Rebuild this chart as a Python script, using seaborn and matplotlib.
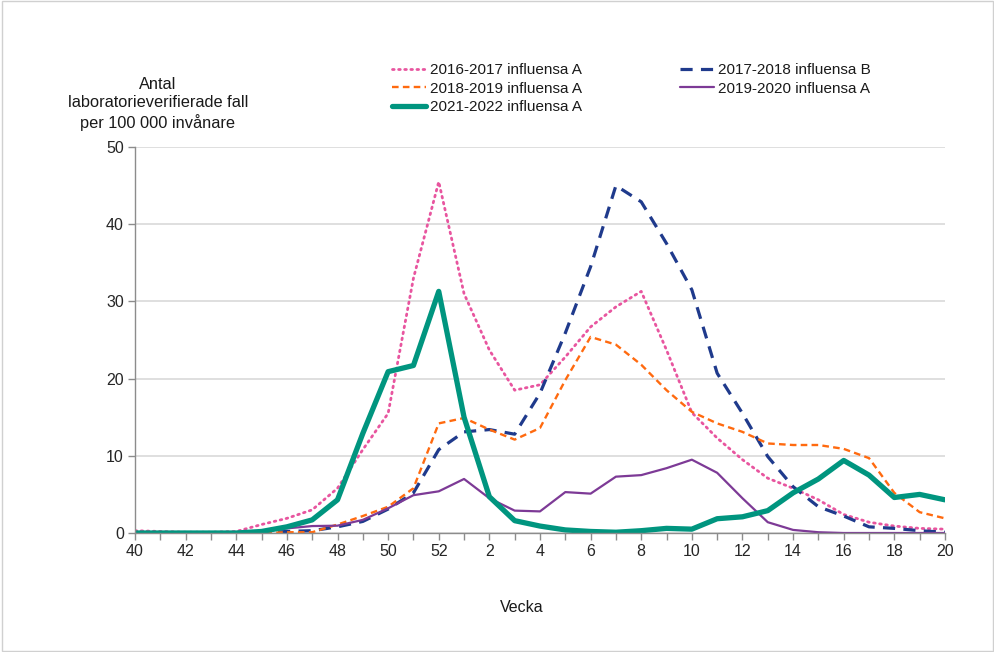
import matplotlib
matplotlib.use("Agg")
import matplotlib.pyplot as plt
import seaborn as sns
import pandas as pd
from matplotlib.patches import Rectangle

# weeks 40-52 followed by 1-20
weeks = list(range(40, 53)) + list(range(1, 21))
tick_labels = [str(w) if w % 2 == 0 else "" for w in weeks]

s2016_2017_A = [0.3, 0.2, 0.1, 0.1, 0.2, 1.1, 1.9, 3.0, 5.8, 10.8, 15.5, 33.0, 45.5,
                31.0, 23.7, 18.5, 19.2, 22.8, 26.7, 29.3, 31.3, 23.7, 15.6,
                12.3, 9.5, 7.1, 5.8, 4.3, 2.4, 1.4, 0.9, 0.6, 0.5]
s2017_2018_B = [0.0, 0.0, 0.0, 0.0, 0.0, 0.0, 0.2, 0.3, 0.8, 1.5, 3.1, 5.2, 10.8,
                13.1, 13.4, 12.8, 18.1, 25.9, 34.5, 45.0, 42.9, 37.5, 31.5,
                20.7, 15.5, 9.9, 6.0, 3.4, 2.2, 0.8, 0.6, 0.3, 0.1]
s2018_2019_A = [0.0, 0.0, 0.0, 0.0, 0.0, 0.0, 0.1, 0.1, 1.1, 2.2, 3.4, 5.8, 14.2,
                14.9, 13.4, 12.1, 13.6, 19.8, 25.4, 24.4, 21.8, 18.5, 15.7,
                14.2, 13.1, 11.6, 11.4, 11.4, 10.9, 9.7, 5.2, 2.7, 1.9]
s2019_2020_A = [0.0, 0.0, 0.0, 0.0, 0.0, 0.2, 0.6, 0.9, 0.95, 1.7, 3.2, 4.9, 5.4,
                7.0, 4.5, 2.9, 2.8, 5.3, 5.1, 7.3, 7.5, 8.4, 9.5,
                7.8, 4.5, 1.4, 0.4, 0.1, 0.0, 0.0, 0.0, 0.0, 0.0]
s2021_2022_A = [0.0, 0.0, 0.0, 0.0, 0.0, 0.2, 0.8, 1.7, 4.3, 12.9, 20.9, 21.7, 31.3,
                15.0, 4.7, 1.6, 0.9, 0.4, 0.2, 0.1, 0.3, 0.6, 0.5,
                1.85, 2.1, 2.9, 5.2, 7.0, 9.4, 7.5, 4.6, 5.0, 4.3]

series = {
    "2016-2017 influensa A": s2016_2017_A,
    "2017-2018 influensa B": s2017_2018_B,
    "2018-2019 influensa A": s2018_2019_A,
    "2019-2020 influensa A": s2019_2020_A,
    "2021-2022 influensa A": s2021_2022_A,
}

styles = {
    "2016-2017 influensa A": dict(color="#E8559F", lw=2.0, dashes=(0.6, 1.6), cap="round"),
    "2017-2018 influensa B": dict(color="#1F3A8C", lw=2.3, dashes=(3.8, 2.6), cap="butt"),
    "2018-2019 influensa A": dict(color="#FF6A0F", lw=1.7, dashes=(2.8, 1.8), cap="butt"),
    "2019-2020 influensa A": dict(color="#7D3A96", lw=1.6, dashes=None, cap="butt"),
    "2021-2022 influensa A": dict(color="#00957F", lw=3.8, dashes=None, cap="butt"),
}

rows = []
for name, vals in series.items():
    for i, v in enumerate(vals):
        rows.append({"idx": i, "value": v, "series": name})
df = pd.DataFrame(rows)

sns.set_theme(style="white")
plt.rcParams["font.family"] = ["Liberation Sans", "DejaVu Sans"]
plt.rcParams["text.color"] = "#1a1a1a"

fig = plt.figure(figsize=(9.95, 6.52), dpi=100)
ax = fig.add_axes([0.1357, 0.1825, 0.814, 0.592])

handles = {}
for name in series:
    st = styles[name]
    sub = df[df["series"] == name]
    sns.lineplot(data=sub, x="idx", y="value", ax=ax, color=st["color"],
                 linewidth=st["lw"], label=name, legend=False)
    line = ax.lines[-1]
    if st["dashes"] is not None:
        line.set_dashes(st["dashes"])
        line.set_dash_capstyle(st["cap"])
    line.set_solid_joinstyle("round")
    handles[name] = line

ax.set_xlim(0, len(weeks) - 1)
ax.set_ylim(0, 50)
ax.set_xticks(range(len(weeks)))
ax.set_xticklabels(tick_labels, fontsize=11.5)
ax.set_yticks(range(0, 51, 10))
ax.set_yticklabels([str(v) for v in range(0, 51, 10)], fontsize=11.5)
ax.tick_params(axis="both", direction="out", length=5, width=1, color="#8c8c8c",
               pad=3, bottom=True, left=True)
ax.grid(axis="y", color="#d9d9d9", linewidth=1.2)
ax.set_axisbelow(True)
for side in ["top", "right"]:
    ax.spines[side].set_visible(False)
for side in ["left", "bottom"]:
    ax.spines[side].set_color("#8c8c8c")
    ax.spines[side].set_linewidth(1)
ax.set_xlabel("")
ax.set_ylabel("")

fig.text(522 / 995, 1 - 608 / 652, "Vecka", ha="center", va="center", fontsize=11.5)
fig.text(158 / 995, 1 - 104 / 652, "Antal\nlaboratorieverifierade fall\nper 100 000 invånare",
         ha="center", va="center", fontsize=11.8, linespacing=1.3)

order = ["2016-2017 influensa A", "2018-2019 influensa A", "2021-2022 influensa A",
         "2017-2018 influensa B", "2019-2020 influensa A"]
fig.legend([handles[n] for n in order], order, ncol=2, frameon=False,
           loc="upper left", bbox_to_anchor=(386 / 995, 1 - 57 / 652),
           fontsize=11, handlelength=2.2, handletextpad=0.3,
           columnspacing=6.4, labelspacing=0.3, borderaxespad=0)

fig.patches.append(Rectangle((0.002, 0.002), 0.996, 0.996, transform=fig.transFigure,
                             fill=False, edgecolor="#d0d0d0", linewidth=1))

fig.savefig("out.png", dpi=100)
